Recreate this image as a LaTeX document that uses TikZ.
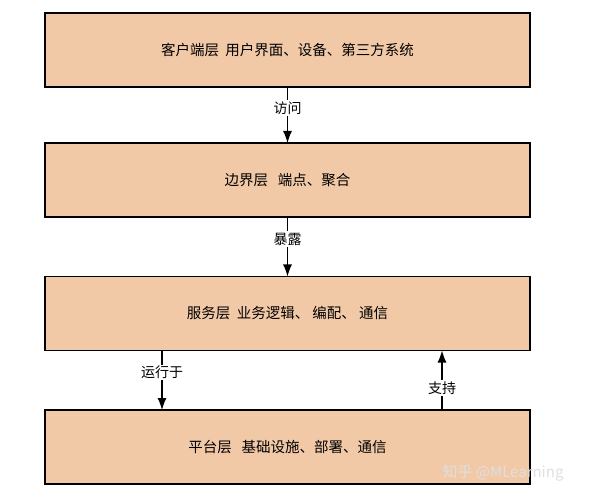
\documentclass[tikz,border=0pt]{standalone}
\usepackage{fontspec}
\usepackage{tikz}
\usepackage{color}
\usetikzlibrary{arrows.meta}
\setmainfont{Noto Sans CJK SC}
\definecolor{peach}{RGB}{242,201,167}

\begin{document}
\begin{tikzpicture}[x=1pt, y=-1pt]
\tikzset{layer/.style={draw, line width=1.2pt, fill=peach, minimum width=485pt, minimum height=74pt, inner sep=0pt, outer sep=0pt, font=\fontsize{14.5}{16}\selectfont},
         arr/.style={-{Latex[length=12pt, width=9pt]}, line width=1.2pt},
         lab/.style={fill=white, inner sep=1.5pt, pos=0.37, font=\fontsize{14}{16}\selectfont}}
\useasboundingbox (0,0) rectangle (590,500);

\node[layer] (C) at (287.5, 50) {客户端层\ \ 用户界面、设备、第三方系统};
\node[layer] (E) at (287.5, 180) {边界层\ \ \ 端点、聚合};
\node[layer] (S) at (287.5, 313.5) {服务层\ \ 业务逻辑、 编配、 通信};
\node[layer] (P) at (287.5, 447) {平台层\ \ \ 基础设施、部署、通信};

\coordinate (L) at (162, 0);
\coordinate (R) at (442, 0);

\draw[arr] (C) -- node[lab] {访问} (E);
\draw[arr] (E) -- node[lab] {暴露} (S);
\draw[arr] (S.south -| L) -- node[lab] {运行于} (P.north -| L);
\draw[arr] (P.north -| R) -- node[lab] {支持} (S.south -| R);

% watermark
\node[text=gray!25, font=\fontsize{15}{16}\selectfont] (W) at (503, 473) {知乎 @MLearning};
\end{tikzpicture}
\end{document}
